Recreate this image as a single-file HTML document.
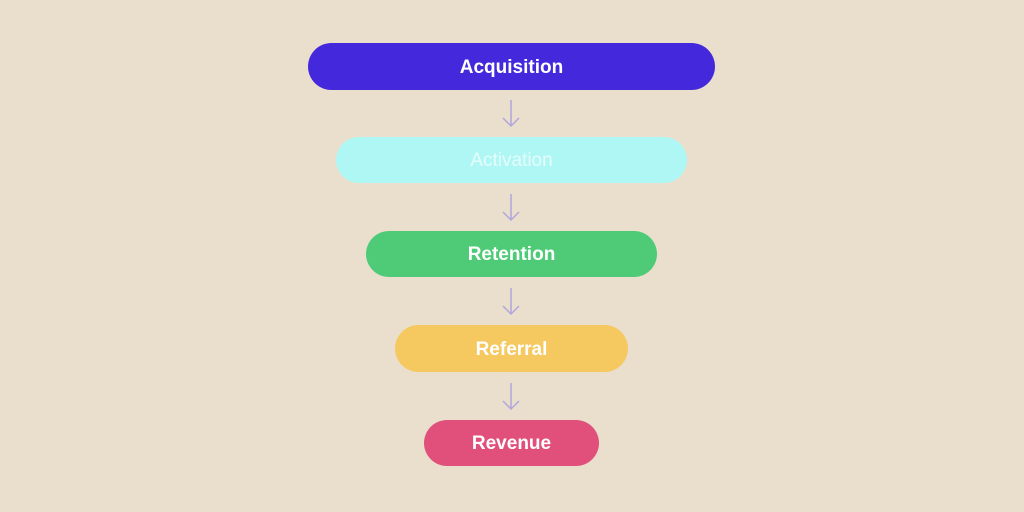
<!DOCTYPE html>
<html><head><style>
html,body{margin:0;padding:0}
body{width:1024px;height:512px;background:#eadfcd;position:relative;overflow:hidden;font-family:"Liberation Sans",sans-serif}
.p{position:absolute;border-radius:24px;color:#fff;font-weight:bold;font-size:19px;display:flex;align-items:center;justify-content:center;box-sizing:border-box;padding-top:2px}
svg{position:absolute;left:0;top:0}
</style></head><body>
<div class="p" style="left:308px;top:43px;width:407px;height:47px;background:#4429dc">Acquisition</div>
<div class="p" style="left:336px;top:137px;width:351px;height:46px;background:#aef7f4;font-weight:normal;color:#e6fdfc">Activation</div>
<div class="p" style="left:366px;top:231px;width:291px;height:46px;background:#4fcb78">Retention</div>
<div class="p" style="left:395px;top:325px;width:233px;height:47px;background:#f6c860">Referral</div>
<div class="p" style="left:424px;top:420px;width:175px;height:46px;background:#e0507a">Revenue</div>
<svg width="1024" height="512" fill="none" stroke="#b0a6dc" stroke-width="1.5">
<path d="M511 100V126M503 118L511 126L519 118"/>
<path d="M511 194V220M503 212L511 220L519 212"/>
<path d="M511 288V314M503 306L511 314L519 306"/>
<path d="M511 383V409M503 401L511 409L519 401"/>
</svg>
</body></html>
